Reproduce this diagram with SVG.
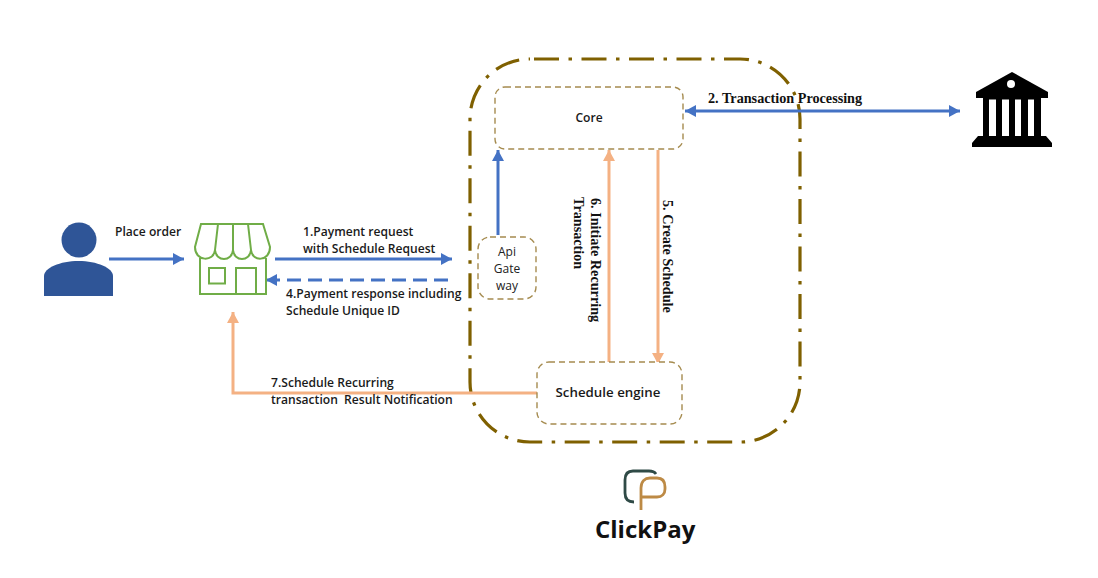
<svg xmlns="http://www.w3.org/2000/svg" width="1098" height="578" viewBox="0 0 1098 578">
<style>
.box{fill:#fff;stroke:#a58b4f;stroke-width:1.4;stroke-dasharray:6 4}
.sans{font-family:"Open Sans","Liberation Sans",sans-serif;font-size:12.1px;font-weight:600;fill:#1a1a1a}
.thin{font-family:"Open Sans","Liberation Sans",sans-serif;font-size:12px;fill:#222;text-anchor:middle}
.serif{font-family:"Liberation Serif",serif;font-size:14.2px;font-weight:700;fill:#111}
.blue{fill:none;stroke:#4472c4;stroke-width:3}
.orange{fill:none;stroke:#f4b183;stroke-width:3}
</style>
<defs>
<marker id="ab" markerUnits="userSpaceOnUse" markerWidth="11" markerHeight="12" refX="11" refY="6" orient="auto-start-reverse"><path d="M0 0L11 6L0 12Z" fill="#4472c4"/></marker>
<marker id="ao" markerUnits="userSpaceOnUse" markerWidth="11" markerHeight="12" refX="11" refY="6" orient="auto"><path d="M0 0L11 6L0 12Z" fill="#f4b183"/></marker>
</defs>
<rect width="1098" height="578" fill="#fff"/>
<g id="clickpay-boundary"><rect x="470" y="59" width="330" height="383" rx="60" fill="none" stroke="#7f6000" stroke-width="3.200" stroke-dasharray="25 9.500 3.500 9.500" stroke-dashoffset="43.500"/></g>
<g id="connectors">
<path class="blue" d="M109 259H184" marker-end="url(#ab)"/>
<path class="blue" d="M275 259H452" marker-end="url(#ab)"/>
<path class="blue" d="M448 280H266" stroke-dasharray="14 7" marker-end="url(#ab)"/>
<path class="blue" d="M498 235V150" marker-end="url(#ab)"/>
<path class="blue" d="M685 111H960" marker-start="url(#ab)" marker-end="url(#ab)"/>
<path class="orange" d="M609 362V150" marker-end="url(#ao)"/>
<path class="orange" d="M658 150V364" marker-end="url(#ao)"/>
<path class="orange" d="M537 393H233V312" marker-end="url(#ao)"/>
</g>
<g id="person" fill="#2f5597"><circle cx="79" cy="240" r="17.500"/><path d="M44 296V276C44 268 60 261 78.500 261S113 268 113 276V296Z"/></g>
<g id="store" fill="none" stroke="#70ad47" stroke-width="2">
<path d="M200 258V294H266V258"/><rect x="209" y="268" width="16" height="15.500"/><path d="M236 294V268H256V294"/>
<path d="M201 224H263L270 247C270 262 252 262 251 250C250 262 234 262 233 250C232 262 216 262 215 250C214 262 195 262 195 247Z"/>
<path d="M215 250L218 224M233 250V224M251 250L248 224"/>
</g>
<g id="bank"><path d="M1012 72L1048 92V98H976V92Z" fill="#000"/><circle cx="1011" cy="84" r="4" fill="#fff"/><path d="M983 98H1041V136H1046L1052 143V147H972V143L978 136H983Z" fill="#000"/><path d="M989 99.500H996V136H989ZM1002 99.500H1009V136H1002ZM1015 99.500H1021V136H1015ZM1028 99.500H1034V136H1028Z" fill="#fff"/></g>
<g id="core"><rect class="box" x="495" y="87" width="188" height="62" rx="10"/><text class="sans" x="589" y="122" text-anchor="middle">Core</text></g>
<g id="api-gateway"><rect class="box" x="478" y="237" width="58" height="62" rx="12"/><text class="thin" x="507" y="256">Api</text><text class="thin" x="507" y="273">Gate</text><text class="thin" x="507" y="290">way</text></g>
<g id="schedule-engine"><rect class="box" x="537" y="362" width="145" height="62" rx="12"/><text class="sans" x="608" y="397" text-anchor="middle" style="font-size:13.300px">Schedule engine</text></g>
<g id="labels">
<text class="sans" x="115" y="236">Place order</text>
<text class="sans" x="303" y="236">1.Payment request</text>
<text class="sans" x="303" y="253">with Schedule Request</text>
<text class="sans" x="286" y="298">4.Payment response including</text>
<text class="sans" x="286" y="315">Schedule Unique ID</text>
<text class="sans" x="271" y="387">7.Schedule Recurring</text>
<text class="sans" x="271" y="404" xml:space="preserve">transaction  Result Notification</text>
<text class="serif" x="708" y="103">2. Transaction Processing</text>
<text class="serif" transform="translate(591 198) rotate(90)">6. Initiate Recurring</text>
<text class="serif" transform="translate(574 197) rotate(90)">Transaction</text>
<text class="serif" transform="translate(663 200) rotate(90)">5. Create Schedule</text>
</g>
<g id="clickpay-logo">
<path d="M656 474C654 471 652 471 649 471H633C627 471 625 475 625 480V493C625 499 628 502 634 502" fill="none" stroke="#2f4a46" stroke-width="2.800"/>
<path d="M641 510V488C641 481 645 478 650 478H657C663 478 665 482 665 487V489C665 494 662 497 657 497H641" fill="none" stroke="#bd8a45" stroke-width="2.800"/>
<text x="595" y="538" style="font-family:'Open Sans','Liberation Sans',sans-serif;font-size:24px;font-weight:700;fill:#111">ClickPay</text>
</g>
</svg>
